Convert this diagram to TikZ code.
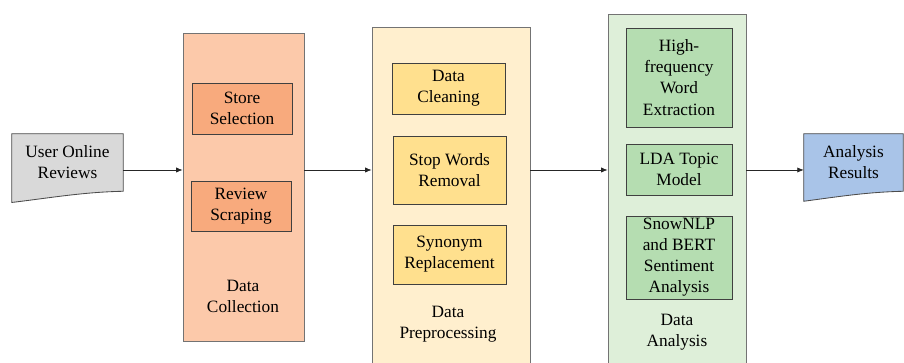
\documentclass[tikz,border=0pt]{standalone}
\usepackage{fontspec}
\setmainfont{Liberation Serif}
\usetikzlibrary{arrows.meta,backgrounds}

\definecolor{docgray}{RGB}{217,217,217}
\definecolor{docblue}{RGB}{169,196,232}
\definecolor{colback}{RGB}{252,201,170}
\definecolor{coltask}{RGB}{248,170,125}
\definecolor{preback}{RGB}{255,239,206}
\definecolor{pretask}{RGB}{255,224,142}
\definecolor{anaback}{RGB}{222,239,217}
\definecolor{anatask}{RGB}{181,221,177}

\begin{document}
\begin{tikzpicture}[
  font=\fontsize{12.3}{15}\selectfont,
  stage/.style={draw=black!55, line width=0.6pt, inner sep=0pt},
  task/.style={draw=black!75, line width=0.6pt, inner sep=0pt, align=center},
  label/.style={align=center},
  doc/.style={inner sep=0pt, align=center},
  docline/.style={draw=black!70, line width=0.6pt},
  flow/.style={-{Latex[length=1.6mm,width=1.3mm]}, line width=0.5pt, black!85}
]
\useasboundingbox (0,0) rectangle (22.6,9.075);
\coordinate (mid) at (0,4.825);

% input and output documents
\node[doc, minimum width=2.775cm, minimum height=1.425cm] (rev) at (1.6875,5.0125) {User Online\\Reviews};
\node[doc, minimum width=2.475cm, minimum height=1.425cm] (res) at (21.3375,5.0125) {Analysis\\Results};
\begin{scope}[on background layer]
\draw[docline, fill=docgray] (rev.north west) -- (rev.north east) -- (rev.south east)
  .. controls +(-1.0,-0.02) and +(1.0,0.12) .. ([yshift=-0.28cm]rev.south west) -- cycle;
\draw[docline, fill=docblue] (res.north west) -- (res.north east) -- (res.south east)
  .. controls +(-0.9,-0.02) and +(0.9,0.12) .. ([yshift=-0.25cm]res.south west) -- cycle;
\end{scope}

% data collection
\node[stage, fill=colback, minimum width=3.025cm, minimum height=7.7cm] (col) at (6.0875,4.4) {};
\node[task, fill=coltask, minimum width=2.5cm, minimum height=1.275cm] (store) at (6.05,6.3625) {Store\\Selection};
\node[task, fill=coltask, minimum width=2.5cm, minimum height=1.25cm] (scrape) at (6.025,3.925) {Review\\Scraping};
\node[label] (colname) at (6.075,1.675) {Data\\Collection};

% data preprocessing
\node[stage, fill=preback, minimum width=3.95cm, minimum height=8.5cm] (pre) at (11.275,4.15) {};
\node[task, fill=pretask, minimum width=2.825cm, minimum height=1.275cm] (clean) at (11.2125,6.8625) {Data\\Cleaning};
\node[task, fill=pretask, minimum width=2.825cm, minimum height=1.7cm] (stop) at (11.2375,4.825) {Stop Words\\Removal};
\node[task, fill=pretask, minimum width=2.825cm, minimum height=1.475cm] (syn) at (11.2375,2.7125) {Synonym\\Replacement};
\node[label] (prename) at (11.2,0.975) {Data\\Preprocessing};

% data analysis
\node[stage, fill=anaback, minimum width=3.45cm, minimum height=8.825cm] (ana) at (16.925,4.3125) {};
\node[task, fill=anatask, minimum width=2.65cm, minimum height=2.475cm] (freq) at (16.975,7.1375) {High-\\frequency\\Word\\Extraction};
\node[task, fill=anatask, minimum width=2.65cm, minimum height=1.275cm] (lda) at (16.975,4.8375) {LDA Topic\\Model};
\node[task, fill=anatask, minimum width=2.65cm, minimum height=2.075cm] (senti) at (16.975,2.6375) {SnowNLP\\and BERT\\Sentiment\\Analysis};
\node[label] (ananame) at (16.925,0.775) {Data\\Analysis};

% pipeline arrows
\foreach \a/\b in {rev/col,col/pre,pre/ana,ana/res}
  \draw[flow] (\a.east |- mid) -- (\b.west |- mid);
\end{tikzpicture}
\end{document}
